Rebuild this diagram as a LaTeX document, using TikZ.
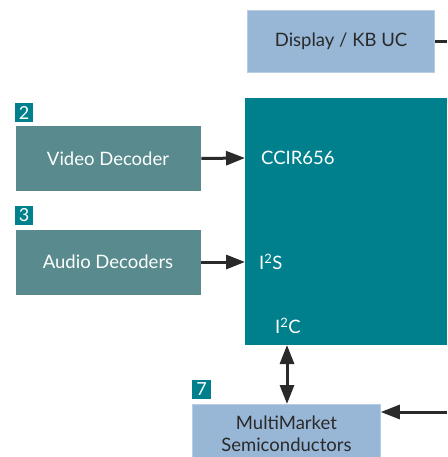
\documentclass[tikz,border=0pt]{standalone}
\usepackage{fontspec}
\setmainfont{Lato}
\usetikzlibrary{arrows.meta}
\definecolor{tealmain}{HTML}{00808C}
\definecolor{tealbox}{HTML}{588A8E}
\definecolor{bluebox}{HTML}{98B6D6}
\definecolor{blueedge}{HTML}{B7CDE4}
\definecolor{inkdark}{HTML}{2A2A2A}
\tikzset{
  x=1pt, y=-1pt,
  big/.style={font=\fontsize{18.5}{22}\selectfont},
  decoder/.style={fill=tealbox, draw=white, line width=0.8pt, text=white, big},
  chip/.style={fill=bluebox, draw=blueedge, line width=0.8pt, text=inkdark, big, align=center},
  tag/.style={fill=tealmain, text=white, inner sep=0pt, font=\fontsize{18}{18}\selectfont},
  port/.style={text=white, big, inner sep=0pt, anchor=west},
  bighead/.tip={Triangle[length=19pt,width=14pt]},
  link/.style={line width=3pt, draw=inkdark, -{bighead}},
  duplex/.style={line width=3pt, draw=inkdark, {bighead}-{bighead}}
}
\begin{document}
\begin{tikzpicture}
\useasboundingbox (0,0) rectangle (447,457);
% main processor block
\path[fill=tealmain] (245,98) rectangle (447,345);
\coordinate (mainL) at (245,158);
\coordinate (mainL2) at (245,262);
\node[port] (ccir) at (261,158) {CCIR656};
\node[port] (i2s) at (259,262) {I\textsuperscript{2}S};
\node[port] (i2c) at (275,326) {I\textsuperscript{2}C};
\coordinate (mainB) at (287,345);
% display controller
\node[chip, minimum width=187pt, minimum height=62pt] (disp) at (341,41) {Display / KB UC};
\coordinate (dispR) at (447,42);
\draw[line width=3pt, draw=inkdark] (disp.east |- dispR) -- (dispR);
% decoders
\node[decoder, minimum width=186pt, minimum height=66pt] (video) at (108,158.5) {Video Decoder};
\node[tag, minimum width=18pt, minimum height=19pt] (t2) at (24,112.5) {2};
\node[decoder, minimum width=186pt, minimum height=66pt] (audio) at (108,262) {Audio Decoders};
\node[tag, minimum width=18pt, minimum height=19pt] (t3) at (24,215.5) {3};
% MultiMarket block
\node[chip, minimum width=188pt, minimum height=58pt, anchor=north west] (mm) at (192,404) {MultiMarket\\Semiconductors};
\node[tag, minimum width=19pt, minimum height=19pt] (t7) at (201.5,389.5) {7};
\coordinate (mmR) at (447,412);
% connectors
\draw[link] (video.east) -- (mainL);
\draw[link] (audio.east) -- (mainL2);
\draw[duplex] (mainB) -- (mainB |- mm.north);
\draw[link] (mmR) -- (mm.east |- mmR);
\end{tikzpicture}
\end{document}
